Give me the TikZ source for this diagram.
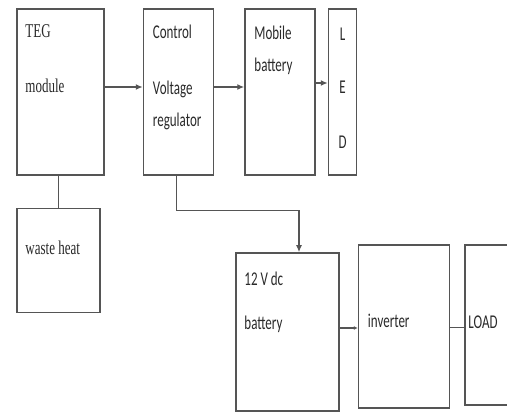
\documentclass[tikz,border=0pt]{standalone}
\usepackage{fontspec}
\setmainfont{Liberation Serif}
\newfontfamily\calfont{Carlito}
\usepackage{xcolor}
\usepackage{graphicx}
\usetikzlibrary{positioning, arrows.meta}

\definecolor{edge}{HTML}{555555}
\definecolor{ink}{HTML}{2a2a2a}
\newcommand\tall[1]{\scalebox{1}[1.5]{#1}}

\tikzset{
  blk/.style={draw=edge, line width=1.5pt, inner sep=0pt, minimum width=#1},
  blk/.default=70pt,
  lbl/.style={text=ink, anchor=west, inner sep=0pt, font=\fontsize{13}{15}\selectfont},
  clbl/.style={lbl, font=\calfont\fontsize{13}{15}\selectfont},
  conn/.style={draw=edge, line width=1.3pt}
}

\begin{document}
\begin{tikzpicture}[>={Latex[length=7pt,width=6pt]}, x=1pt, y=-1pt]
        \clip (0,0) rectangle (507,414);
        \fill[white] (0,0) rectangle (507,414);

        % top row
        \node[blk=87pt, minimum height=166pt] (teg) at (60.5,92) {};
        \node[blk, minimum height=166pt] (ctrl) [right=38pt of teg] {};
        \node[blk, minimum height=166pt] (mob) [right=30pt of ctrl] {};
        \node[blk=28pt, minimum height=166pt] (led) [right=12pt of mob] {};
        \node[blk=83pt, minimum height=104pt] (wst) [below right=32pt and 0pt of teg.south west] {};

        % bottom row
        \node[blk=103pt, minimum height=158pt] (batt) at (287.5,332) {};
        \node[blk=91pt, minimum height=163pt, yshift=5.5pt] (inv) [right=18pt of batt] {};
        \node[blk=56pt, minimum height=160pt, yshift=7pt] (load) [right=14pt of batt.east -| inv.east] {};

        % texts
        \node[lbl] (tegA) at ([shift={(9,23)}]teg.north west) {\tall{TEG}};
        \node[lbl] (tegB) at ([shift={(9,78)}]teg.north west) {\tall{module}};
        \node[clbl] (ctrlA) at ([shift={(10,24)}]ctrl.north west) {\tall{Control}};
        \node[clbl] (ctrlB) at ([shift={(10,81)}]ctrl.north west) {\tall{Voltage}};
        \node[clbl] (ctrlC) at ([shift={(10,113)}]ctrl.north west) {\tall{regulator}};
        \node[clbl] (mobA) at ([shift={(10,25)}]mob.north west) {\tall{Mobile}};
        \node[clbl] (mobB) at ([shift={(10,58)}]mob.north west) {\tall{battery}};
        \node[clbl, anchor=center] (ledL) at ([yshift=-26pt]led.north) {\tall{L}};
        \node[clbl, anchor=center] (ledE) at ([yshift=-79pt]led.north) {\tall{E}};
        \node[clbl, anchor=center] (ledD) at ([yshift=-134pt]led.north) {\tall{D}};
        \node[lbl] (wstA) at ([shift={(9,40)}]wst.north west) {\tall{waste heat}};
        \node[clbl] (battA) at ([shift={(9,27)}]batt.north west) {\tall{12 V dc}};
        \node[clbl] (battB) at ([shift={(9,72)}]batt.north west) {\tall{battery}};
        \node[clbl] (invA) at ([shift={(10,77)}]inv.north west) {\tall{inverter}};
        \node[clbl] (loadA) at ([shift={(4,78)}]load.north west) {\tall{LOAD}};

        % connectors
        \draw[conn, ->] ([yshift=5pt]teg.east) -- ([yshift=5pt]ctrl.west);
        \draw[conn, ->] ([yshift=5pt]ctrl.east) -- ([yshift=5pt]mob.west);
        \draw[conn, ->] ([yshift=9pt]mob.east) -- ([yshift=9pt]led.west);
        \draw[conn] (wst.north) -- (wst.north |- teg.south);
        \draw[conn, ->] ([xshift=-2pt]ctrl.south) -- ++(0,35) -| ([xshift=11.5pt]batt.north);
        \draw[conn, -{Latex[length=4pt,width=4pt]}] ([yshift=4pt]batt.east) -- ([yshift=4pt]batt.east -| inv.west);
        \draw[conn] ([yshift=-1pt]inv.east) -- ([yshift=-1pt]inv.east -| load.west);
    \end{tikzpicture}
\end{document}
